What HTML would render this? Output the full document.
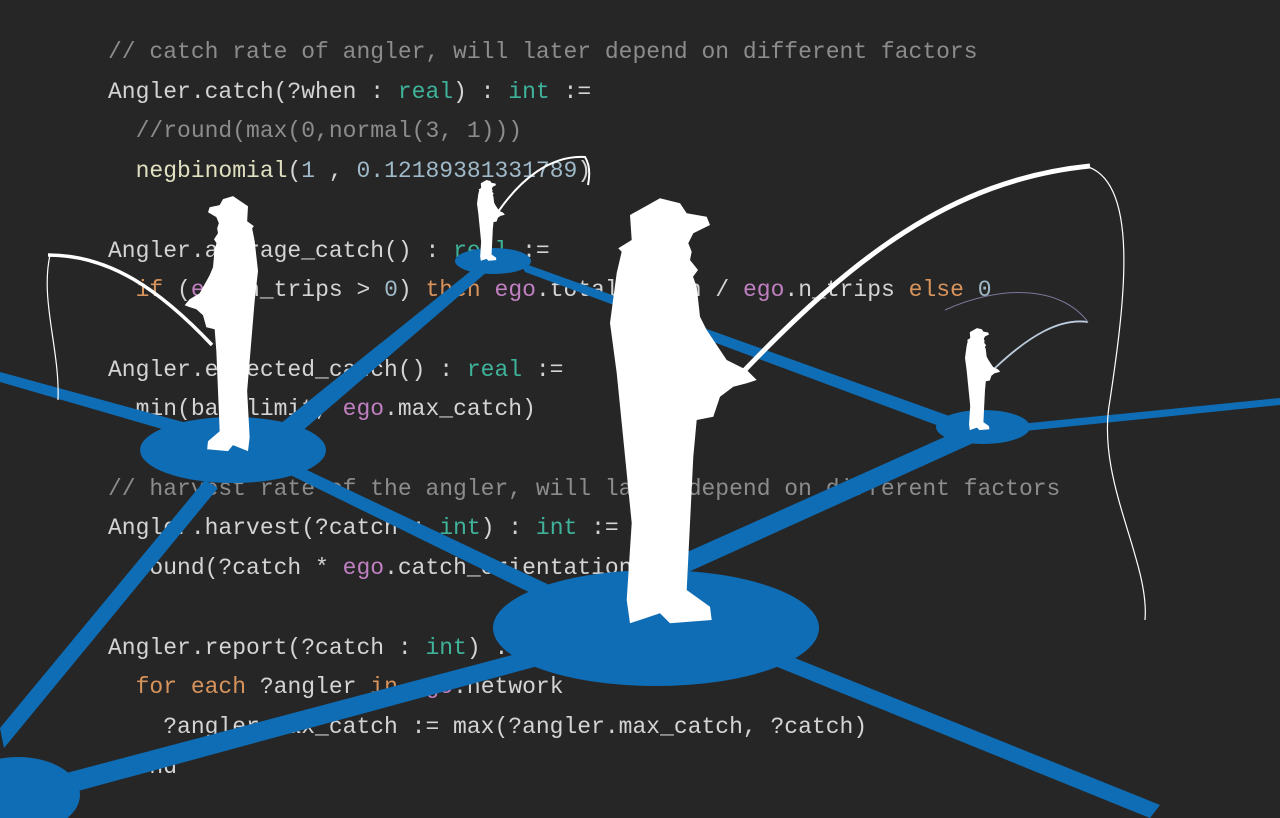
<!DOCTYPE html>
<html><head><meta charset="utf-8"><style>
html,body{margin:0;padding:0;background:#262626;width:1280px;height:818px;overflow:hidden}
pre{position:absolute;left:108px;top:33px;margin:0;font-family:"Liberation Mono",monospace;font-size:23px;line-height:39.7px;color:#d4d4d4}
.cm{color:#8c8c8c}.t{color:#3fb39a}.n{color:#9fb9c8}.e{color:#c07fc0}.k{color:#d7935c}.f{color:#e0e0c0}
svg{position:absolute;left:0;top:0}
</style></head><body>
<pre><span class="cm">// catch rate of angler, will later depend on different factors</span>
Angler.catch(?when : <span class="t">real</span>) : <span class="t">int</span> :=
  <span class="cm">//round(max(0,normal(3, 1)))</span>
  <span class="f">negbinomial</span>(<span class="n">1</span> , <span class="n">0.12189381331789</span>)

Angler.average_catch() : <span class="t">real</span> :=
  <span class="k">if</span> (<span class="e">ego</span>.n_trips &gt; <span class="n">0</span>) <span class="k">then</span> <span class="e">ego</span>.total_catch / <span class="e">ego</span>.n_trips <span class="k">else</span> <span class="n">0</span>

Angler.expected_catch() : <span class="t">real</span> :=
  min(bag_limit, <span class="e">ego</span>.max_catch)

<span class="cm">// harvest rate of the angler, will later depend on different factors</span>
Angler.harvest(?catch : <span class="t">int</span>) : <span class="t">int</span> :=
  round(?catch * <span class="e">ego</span>.catch_orientation)

Angler.report(?catch : <span class="t">int</span>) :=
  <span class="k">for each</span> ?angler <span class="k">in</span> <span class="e">ego</span>.network
    ?angler.max_catch := max(?angler.max_catch, ?catch)
  end</pre>
<svg width="1280" height="818" viewBox="0 0 1280 818">
<defs>
<path id="man" d="M8.3,50.3 L21.7,42 L20,17 L50,0.3 L70,5.3 L76.7,15.3 L96.7,18.7 L100,27 L83.3,35.3 L78.3,45.3 L81.7,53.7 L80,62 L88,72 L83,78.7 L86.7,88.7 L90,118.7 L96.7,132 L116.7,162 L136.7,172 L146.7,182 L136.7,185.3 L123.3,188.7 L110,198.7 L103.3,218.7 L86.7,222 L83.3,258.7 L80,325 L76.7,392 L100,408.7 L101.7,422 L60,425.3 L50,415.3 L20,425.3 L16.7,402 L21.7,325 L11.7,225 L6.7,175 L0,125 L6.7,75 L11.7,53.7 Z" fill="#fff"/>
</defs>
<g fill="#0f6db5">
<polygon points="0,372 0,382 200,440 205,428"/>
<polygon points="260,440 280,450 495,265 482,262"/>
<polygon points="520,262 525,272 950,430 955,418"/>
<polygon points="580,600 600,612 980,440 960,430"/>
<polygon points="1010,425 1015,432 1280,405 1280,398"/>
<polygon points="280,470 290,462 560,590 545,600"/>
<polygon points="205,480 218,488 4,748 0,728"/>
<polygon points="40,780 45,800 560,660 550,645"/>
<polygon points="760,660 770,648 1160,805 1150,818"/>
<ellipse cx="493" cy="261" rx="38" ry="13"/>
<ellipse cx="233" cy="450" rx="93" ry="33"/>
<ellipse cx="983" cy="427" rx="47" ry="17"/>
<ellipse cx="656" cy="628" rx="163" ry="58"/>
<ellipse cx="18" cy="795" rx="62" ry="38"/>
</g>
<g fill="none" stroke="#fff">
<path d="M740,375 C850,260 950,180 1090,166" stroke-width="5"/>
<path d="M1085,166 C1140,180 1125,300 1110,400 C1095,480 1150,560 1145,620" stroke-width="1.2"/>
<path d="M212,345 C160,290 110,255 48,255" stroke-width="3.5"/>
<path d="M50,255 C40,300 60,350 58,400" stroke-width="1.2"/>
<path d="M498,212 C520,180 550,155 585,157 C590,165 590,175 588,185" stroke-width="2"/>
<path d="M995,368 C1030,335 1060,318 1088,322" stroke-width="1.8" stroke="#bcd"/>
<path d="M945,310 C1000,285 1060,285 1088,322" stroke-width="1" stroke="#779"/>
</g>
<use href="#man" transform="translate(610,198)"/>
<use href="#man" transform="translate(258,196) scale(-0.5,0.6)"/>
<use href="#man" transform="translate(477,180) scale(0.19)"/>
<use href="#man" transform="translate(965,328) scale(0.24)"/>
</svg>
</body></html>
